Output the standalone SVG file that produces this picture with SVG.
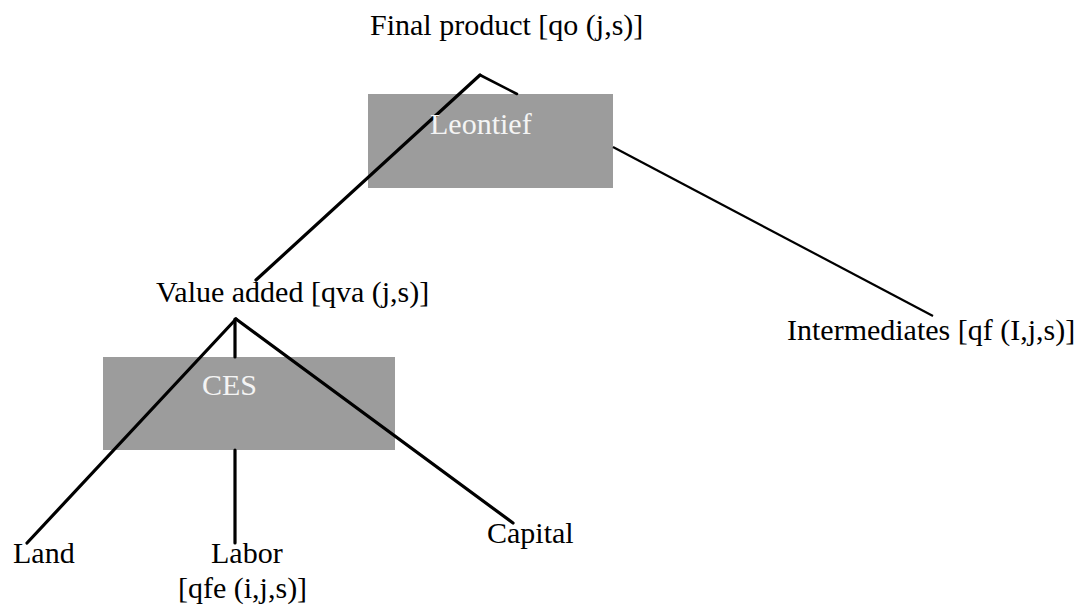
<svg xmlns="http://www.w3.org/2000/svg" width="1092" height="607" viewBox="0 0 1092 607">
<style>
.t{font-family:"Liberation Serif","Times New Roman",serif;font-size:30px;fill:#000}
.w{font-family:"Liberation Serif","Times New Roman",serif;font-size:30px;fill:#f4f4f4}
.box{fill:#9c9c9c;stroke:none}
.ln{stroke:#000;stroke-width:3.2;fill:none;stroke-linecap:round}
.thin{stroke:#000;stroke-width:2.2;fill:none}
</style>
<rect width="1092" height="607" fill="#fff"/>
<g id="leontief">
<rect class="box" x="368" y="94" width="245" height="94"/>
</g>
<g id="ces">
<rect class="box" x="103" y="357" width="292" height="93"/>
</g>
<g id="connectors">
<line class="ln" x1="480" y1="75" x2="256" y2="280"/>
<line class="ln" x1="480" y1="75" x2="517" y2="94" style="stroke-width:2.6"/>
<line class="thin" x1="613" y1="147" x2="933" y2="316"/>
<line class="ln" x1="236" y1="319" x2="27" y2="543"/>
<line class="ln" x1="235" y1="319" x2="235" y2="357"/>
<line class="ln" x1="235" y1="450" x2="235" y2="543"/>
<line class="ln" x1="236" y1="319" x2="513" y2="523"/>
</g>
<g id="final-product"><text class="t" x="370" y="35">Final product [qo (j,s)]</text></g>
<g id="leontief-label"><text class="w" x="430" y="134">Leontief</text></g>
<g id="value-added"><text class="t" x="156" y="302">Value added [qva (j,s)]</text></g>
<g id="intermediates"><text class="t" x="787" y="340">Intermediates [qf (I,j,s)]</text></g>
<g id="ces-label"><text class="w" x="202" y="395">CES</text></g>
<g id="land"><text class="t" x="13" y="563">Land</text></g>
<g id="labor"><text class="t" x="211" y="563">Labor</text><text class="t" x="178" y="598">[qfe (i,j,s)]</text></g>
<g id="capital"><text class="t" x="487" y="543">Capital</text></g>
</svg>
